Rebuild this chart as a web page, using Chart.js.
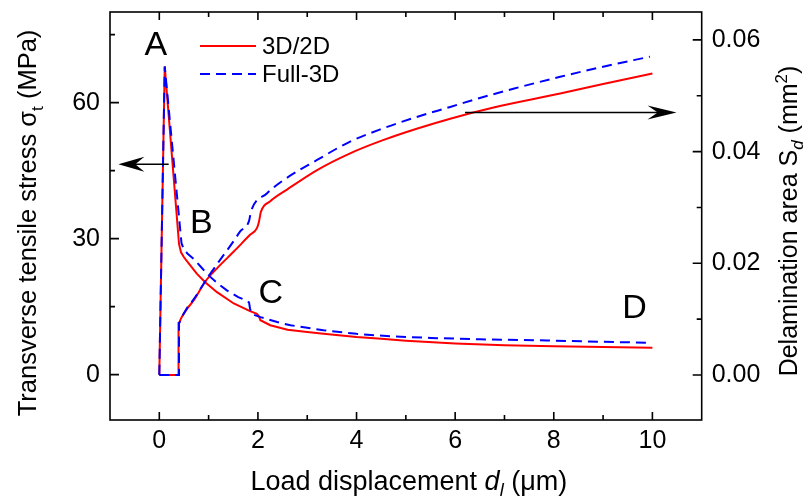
<!DOCTYPE html>
<html>
<head>
<meta charset="utf-8">
<script src="https://cdn.jsdelivr.net/npm/chart.js@4.4.1/dist/chart.umd.min.js"></script>
<style>
  html, body { margin: 0; padding: 0; background: #fff; }
  canvas { display: block; }
</style>
</head>
<body>
<canvas id="delamChart" width="811" height="496"></canvas>
<script>
// transverse tensile stress (MPa) against load displacement (um)
var stress2dX = [0, 0.11, 0.40, 0.44, 0.50, 0.60, 0.76, 0.93, 1.17, 1.51, 1.84, 1.98, 2.02, 2.05, 2.25, 2.60, 3.00, 3.33, 4.00, 4.50, 5.00, 6.00, 7.00, 8.00, 9.00, 10.0];
var stress2dY = [0, 68.0, 28.8, 27.0, 25.9, 24.5, 22.3, 20.4, 18.2, 15.7, 14.0, 13.4, 12.9, 12.0, 10.9, 9.9, 9.4, 9.0, 8.3, 7.9, 7.5, 6.9, 6.5, 6.25, 6.1, 5.95];
var stress3dX = [0, 0.11, 0.45, 0.50, 0.58, 0.70, 0.85, 1.00, 1.20, 1.37, 1.60, 1.78, 1.82, 1.84, 1.87, 2.05, 2.39, 2.66, 3.33, 4.00, 4.68, 5.50, 6.50, 7.86, 9.00, 9.90];
var stress3dY = [0, 68.0, 29.0, 27.6, 26.6, 25.5, 23.7, 21.9, 20.0, 18.6, 17.1, 16.3, 15.9, 14.6, 13.4, 12.7, 11.6, 10.9, 9.8, 9.0, 8.45, 8.1, 7.8, 7.55, 7.25, 7.05];

// delamination area (mm2) against load displacement (um)
var area2dX = [0, 0.39, 0.39, 0.45, 0.55, 0.70, 0.93, 1.17, 1.51, 1.84, 1.98, 2.02, 2.06, 2.25, 2.59, 3.20, 3.87, 4.55, 5.22, 5.90, 6.78, 8.13, 9.00, 10.0];
var area2dY = [0, 0, 0.0093, 0.0103, 0.0117, 0.0134, 0.0167, 0.0191, 0.0221, 0.0251, 0.0263, 0.0274, 0.0292, 0.0311, 0.0332, 0.0367, 0.0397, 0.0421, 0.0441, 0.0459, 0.0479, 0.0504, 0.0521, 0.0540];
var area3dX = [0, 0.40, 0.40, 0.46, 0.55, 0.70, 1.00, 1.20, 1.51, 1.64, 1.82, 1.86, 2.18, 2.52, 3.20, 3.87, 4.55, 5.22, 5.90, 6.50, 7.20, 8.13, 9.00, 9.95];
var area3dY = [0, 0, 0.0093, 0.0104, 0.0118, 0.0136, 0.0177, 0.0202, 0.0240, 0.0257, 0.0276, 0.0293, 0.0325, 0.0349, 0.0385, 0.0418, 0.0442, 0.0462, 0.0480, 0.0496, 0.0513, 0.0534, 0.0552, 0.0570];

var dispTicks = [0, 2, 4, 6, 8, 10];
var stressTicks = [0, 30, 60];
var areaTicks = [0, 0.02, 0.04, 0.06];

var seriesNames = ['3D/2D', 'Full-3D'];

// stage letters, placed in (displacement, stress) units
var stageLabels = [
  { text: 'A', x: -0.07, y: 72.9 },
  { text: 'B', x: 0.85, y: 33.6 },
  { text: 'C', x: 2.26, y: 18.2 },
  { text: 'D', x: 9.64, y: 14.7 }
];

var FONT = '"Liberation Sans", Arial, Helvetica, sans-serif';
var RED = '#ff0000', BLUE = '#0000ff';

function pair(xs, ys) {
  return xs.map(function(x, i) { return { x: x, y: ys[i] }; });
}

function minorTicks(scale, majors) {
  var step = majors[1] - majors[0], out = [];
  majors.forEach(function(v) {
    [v - step / 2, v + step / 2].forEach(function(m) {
      if (m > scale.min + 1e-9 && m < scale.max - 1e-9 && out.indexOf(m) < 0) out.push(m);
    });
  });
  return out;
}

// text made of pieces, some italic / sub / superscript
function richText(c, parts, size, cx, cy, angle) {
  c.save();
  c.translate(cx, cy);
  c.rotate(angle || 0);
  c.textBaseline = 'alphabetic';
  c.textAlign = 'left';
  var total = 0;
  parts.forEach(function(p) {
    var s = p.shift ? size * 0.68 : size;
    c.font = (p.italic ? 'italic ' : '') + s + 'px ' + FONT;
    p.w = c.measureText(p.t).width;
    p.s = s;
    total += p.w;
  });
  var x = -total / 2, base = size * 0.36;
  parts.forEach(function(p) {
    c.font = (p.italic ? 'italic ' : '') + p.s + 'px ' + FONT;
    var dy = p.shift === 'sub' ? size * 0.25 : (p.shift === 'sup' ? -size * 0.42 : 0);
    c.fillText(p.t, x, base + dy);
    x += p.w;
  });
  c.restore();
}

function arrow(c, x1, y1, x2, y2, len, half) {
  var ang = Math.atan2(y2 - y1, x2 - x1);
  c.beginPath();
  c.moveTo(x1, y1);
  c.lineTo(x2 - Math.cos(ang) * len * 0.6, y2 - Math.sin(ang) * len * 0.6);
  c.stroke();
  c.save();
  c.translate(x2, y2);
  c.rotate(ang);
  c.beginPath();
  c.moveTo(0, 0);
  c.lineTo(-len, -half);
  c.lineTo(-len * 0.65, 0);
  c.lineTo(-len, half);
  c.closePath();
  c.fill();
  c.restore();
}

// keep the plot frame where the axes put it, not where label padding pushes it
function noEdgePadding(s) {
  s.paddingTop = 0;
  s.paddingBottom = 0;
  s.paddingLeft = 0;
  s.paddingRight = 0;
}

var decorations = {
  id: 'decorations',
  beforeDraw: function(chart) {
    var c = chart.ctx;
    c.save();
    c.fillStyle = '#fff';
    c.fillRect(0, 0, chart.width, chart.height);
    c.restore();
  },
  afterDraw: function(chart) {
    var c = chart.ctx, a = chart.chartArea;
    var sx = chart.scales.x, sl = chart.scales.yStress, sr = chart.scales.yArea;
    c.save();
    c.strokeStyle = '#000';
    c.fillStyle = '#000';
    c.lineWidth = 1.6;
    c.strokeRect(a.left, a.top, a.right - a.left, a.bottom - a.top);

    // inward tick marks
    c.beginPath();
    function vTick(v, len) {
      var p = sx.getPixelForValue(v);
      c.moveTo(p, a.bottom); c.lineTo(p, a.bottom - len);
      c.moveTo(p, a.top); c.lineTo(p, a.top + len);
    }
    dispTicks.forEach(function(v) { vTick(v, 8); });
    minorTicks(sx, dispTicks).forEach(function(v) { vTick(v, 5); });
    stressTicks.forEach(function(v) { var p = sl.getPixelForValue(v); c.moveTo(a.left, p); c.lineTo(a.left + 9, p); });
    minorTicks(sl, stressTicks).forEach(function(v) { var p = sl.getPixelForValue(v); c.moveTo(a.left, p); c.lineTo(a.left + 5, p); });
    areaTicks.forEach(function(v) { var p = sr.getPixelForValue(v); c.moveTo(a.right, p); c.lineTo(a.right - 9, p); });
    minorTicks(sr, areaTicks).forEach(function(v) { var p = sr.getPixelForValue(v); c.moveTo(a.right, p); c.lineTo(a.right - 5, p); });
    c.stroke();

    // arrows telling which curve belongs to which axis
    c.lineWidth = 1.6;
    arrow(c, sx.getPixelForValue(0.19), sl.getPixelForValue(46.4),
          sx.getPixelForValue(-0.83), sl.getPixelForValue(46.4), 26, 7.5);
    arrow(c, sx.getPixelForValue(6.2), sr.getPixelForValue(0.047),
          sx.getPixelForValue(10.49), sr.getPixelForValue(0.047), 29, 7);

    // stage letters
    c.font = '34px ' + FONT;
    c.textAlign = 'center';
    c.textBaseline = 'middle';
    stageLabels.forEach(function(l) {
      c.fillText(l.text, sx.getPixelForValue(l.x), sl.getPixelForValue(l.y) + 1);
    });

    // legend, one entry per model
    var ds = chart.data.datasets;
    [ds[0], ds[1]].forEach(function(d, i) {
      var y = 46 + i * 28;
      c.strokeStyle = d.borderColor;
      c.lineWidth = 2;
      c.setLineDash(d.borderDash || []);
      c.beginPath(); c.moveTo(200, y); c.lineTo(256, y); c.stroke();
      c.setLineDash([]);
      c.fillStyle = '#000';
      c.font = '24px ' + FONT;
      c.textAlign = 'left';
      c.fillText(seriesNames[i], 262, y + 1);
    });

    // axis titles
    c.fillStyle = '#000';
    richText(c, [{ t: 'Transverse tensile stress \u03c3' }, { t: 't', shift: 'sub' }, { t: ' (MPa)' }],
      25.5, 27, (a.top + a.bottom) / 2 + 7, -Math.PI / 2);
    richText(c, [{ t: 'Delamination area S' }, { t: 'd', shift: 'sub', italic: true }, { t: ' (mm' }, { t: '2', shift: 'sup' }, { t: ')' }],
      25, 788, (a.top + a.bottom) / 2 + 5, -Math.PI / 2);
    richText(c, [{ t: 'Load displacement ' }, { t: 'd', italic: true }, { t: 'l', shift: 'sub', italic: true }, { t: ' (\u03bcm)' }],
      27, (a.left + a.right) / 2 + 3, 480, 0);
    c.restore();
  }
};

var ctx = document.getElementById('delamChart').getContext('2d');
var tickFont = { family: FONT, size: 25 };

var delamChart = new Chart(ctx, {
  type: 'line',
  data: {
    datasets: [
      { label: '3D/2D', data: pair(stress2dX, stress2dY), yAxisID: 'yStress', borderColor: RED, borderWidth: 2, order: 1 },
      { label: 'Full-3D', data: pair(stress3dX, stress3dY), yAxisID: 'yStress', borderColor: BLUE, borderWidth: 2, borderDash: [10, 6], order: 0 },
      { label: '3D/2D', data: pair(area2dX, area2dY), yAxisID: 'yArea', borderColor: RED, borderWidth: 2, order: 1, cubicInterpolationMode: 'monotone' },
      { label: 'Full-3D', data: pair(area3dX, area3dY), yAxisID: 'yArea', borderColor: BLUE, borderWidth: 2, borderDash: [10, 6], order: 0, cubicInterpolationMode: 'monotone' }
    ]
  },
  options: {
    responsive: false,
    animation: false,
    layout: { padding: { top: 12, left: 0, right: 0, bottom: 0 } },
    elements: { point: { radius: 0 }, line: { tension: 0, fill: false } },
    plugins: { legend: { display: false }, tooltip: { enabled: false } },
    scales: {
      x: {
        type: 'linear', min: -1, max: 11,
        afterBuildTicks: function(s) { s.ticks = dispTicks.map(function(v) { return { value: v }; }); },
        afterFit: function(s) { s.height = 76; noEdgePadding(s); },
        grid: { display: false, drawTicks: false },
        border: { display: false },
        ticks: { font: tickFont, color: '#000', padding: 6, maxRotation: 0 }
      },
      yStress: {
        type: 'linear', position: 'left', min: -10, max: 80,
        afterBuildTicks: function(s) { s.ticks = stressTicks.map(function(v) { return { value: v }; }); },
        afterFit: function(s) { s.width = 110; noEdgePadding(s); },
        grid: { display: false, drawTicks: false },
        border: { display: false },
        ticks: { font: tickFont, color: '#000', padding: 10 }
      },
      yArea: {
        type: 'linear', position: 'right', min: -0.00806, max: 0.065,
        afterBuildTicks: function(s) { s.ticks = areaTicks.map(function(v) { return { value: v }; }); },
        afterFit: function(s) { s.width = 109.3; noEdgePadding(s); },
        grid: { display: false, drawTicks: false },
        border: { display: false },
        ticks: { font: tickFont, color: '#000', padding: 10, callback: function(v) { return v.toFixed(2); } }
      }
    }
  },
  plugins: [decorations]
});
</script>
</body>
</html>
